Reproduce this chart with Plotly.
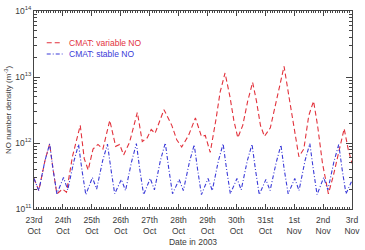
import pandas as pd
import plotly.graph_objects as go

# ---- data (hours since 2003-10-23 00:00, values in m^-3) ----
stable_hours = [0, 4, 9, 13, 15.8, 19,
                24.5, 28, 33, 37, 39.8, 43,
                48.5, 52, 57, 61, 63.8, 67,
                72.5, 76, 81, 85, 87.8, 91,
                96.5, 100, 105, 109, 111.8, 115,
                120.5, 124, 129, 133, 135.8, 139,
                144.5, 148, 153, 157, 159.8, 163,
                168.5, 172, 177, 181, 183.8, 187,
                192.5, 196, 201, 205, 207.8, 211,
                216.5, 220, 225, 229, 231.8, 235,
                240.5, 244, 249, 253, 255.8, 259,
                264]
stable_vals = [2.9e11, 1.9e11, 5.3e11, 9.7e11, 4.0e11, 1.7e11,
               3.0e11, 1.95e11, 5.2e11, 9.5e11, 3.9e11, 1.65e11,
               3.0e11, 2.0e11, 5.4e11, 9.6e11, 4.1e11, 1.7e11,
               2.8e11, 1.9e11, 5.2e11, 9.8e11, 4.0e11, 1.65e11,
               2.9e11, 1.95e11, 5.5e11, 1.0e12, 4.2e11, 1.7e11,
               2.8e11, 1.9e11, 5.1e11, 9.4e11, 4.0e11, 1.65e11,
               2.9e11, 1.9e11, 5.3e11, 9.7e11, 4.1e11, 1.7e11,
               2.9e11, 1.95e11, 5.3e11, 9.6e11, 4.0e11, 1.65e11,
               2.8e11, 1.9e11, 5.0e11, 9.3e11, 3.9e11, 1.7e11,
               2.9e11, 1.9e11, 5.4e11, 9.8e11, 4.1e11, 1.65e11,
               3.0e11, 1.95e11, 5.2e11, 9.5e11, 4.0e11, 1.7e11,
               2.7e11]

variable_hours = [0, 4, 9, 13, 15.8, 19, 23.7, 27, 31.9, 38.4, 41.7, 45,
                  49, 53.1, 57.2, 62.9, 67.8, 71.1, 74.4, 79.3, 85.8, 89.9,
                  94, 97.3, 100.5, 107.9, 114.4, 118.5, 122.6, 128.3, 134,
                  139, 142.2, 146.3, 151.2, 154.5, 158.6, 162.7, 165.9,
                  169.2, 173.3, 177.4, 181.5, 184.7, 188, 191.3, 196.2,
                  201.9, 207.6, 211.7, 215.8, 219.9, 224, 228.1, 232.1,
                  235.4, 239.5, 244.4, 248.5, 253.4, 257.5, 260.8, 264]
variable_vals = [2.9e11, 1.9e11, 5.3e11, 9.7e11, 4.0e11, 1.7e11, 2.0e11, 1.8e11,
                 6.2e11, 1.85e12, 5.8e11, 3.9e11,
                 8.1e11, 9.5e11, 8.1e11, 2.2e12, 8.9e11, 9.5e11, 6.6e11, 1.02e12,
                 2.9e12, 1.05e12,
                 1.2e12, 1.6e12, 1.4e12, 3.2e12, 1.85e12, 1.12e12, 8.7e11, 1.3e12,
                 2.4e12,
                 1.26e12, 1.3e12, 7.2e11, 2.35e12, 5.9e12, 1.15e13, 5.0e12, 2.2e12,
                 1.2e12, 1.85e12, 4.3e12, 8.3e12, 4.3e12, 1.85e12, 1.26e12, 1.7e12,
                 5.0e12, 1.45e13, 5.0e12, 1.85e12, 6.2e11, 8.1e11, 2.6e12, 4.3e12,
                 1.85e12, 4.9e11, 1.7e11, 3.2e11, 7.6e11, 1.65e12, 8.1e11, 4.9e11]

day_ticks = ["2003-10-23", "2003-10-24", "2003-10-25", "2003-10-26", "2003-10-27",
             "2003-10-28", "2003-10-29", "2003-10-30", "2003-10-31", "2003-11-01",
             "2003-11-02", "2003-11-03"]
day_labels = ["23rd<br>Oct", "24th<br>Oct", "25th<br>Oct", "26th<br>Oct", "27th<br>Oct",
              "28th<br>Oct", "29th<br>Oct", "30th<br>Oct", "31st<br>Oct", "1st<br>Nov",
              "2nd<br>Nov", "3rd<br>Nov"]
y_ticks = [1e11, 1e12, 1e13, 1e14]
y_labels = ["10<sup>11</sup>", "10<sup>12</sup>", "10<sup>13</sup>", "10<sup>14</sup>"]

start = pd.Timestamp("2003-10-23")
t_stable = start + pd.to_timedelta(stable_hours, unit="h")
t_var = start + pd.to_timedelta(variable_hours, unit="h")

RED = "#e2323c"
BLUE = "#3a3ad8"
FONT = "Liberation Sans, Arial, sans-serif"
TXT = "#3a3a3a"

fig = go.Figure()
fig.add_trace(go.Scatter(x=t_var, y=variable_vals, mode="lines",
                         line=dict(color=RED, width=1.1, dash="5px,3px"),
                         name="CMAT: variable NO"))
fig.add_trace(go.Scatter(x=t_stable, y=stable_vals, mode="lines",
                         line=dict(color=BLUE, width=1.1, dash="4px,2px,1px,2px"),
                         name="CMAT: stable NO"))

minor_y = [k * 10 ** e for e in (11, 12, 13) for k in range(2, 10)]

fig.update_layout(
    width=365, height=250,
    margin=dict(l=34, r=9, t=5, b=37),
    paper_bgcolor="white", plot_bgcolor="white",
    showlegend=False,
    font=dict(family=FONT, size=8, color=TXT),
    xaxis=dict(
        type="date",
        range=["2003-10-23", "2003-11-03"],
        tickmode="array", tickvals=day_ticks, ticktext=day_labels,
        ticks="inside", ticklen=5, tickcolor="#444444",
        showline=True, linecolor="#444444", linewidth=1, mirror="allticks",
        showgrid=False, zeroline=False,
        ticklabelstandoff=3,
        tickfont=dict(size=8.5, color=TXT),
        minor=dict(ticks="inside", ticklen=2, dtick=7200000, tickcolor="#444444", showgrid=False),
        title=dict(text="Date in 2003", font=dict(size=8.5, color=TXT), standoff=3),
    ),
    yaxis=dict(
        type="log",
        range=[11, 14],
        tickmode="array", tickvals=y_ticks, ticktext=y_labels,
        ticks="inside", ticklen=6, tickcolor="#444444",
        showline=True, linecolor="#444444", linewidth=1, mirror="allticks",
        showgrid=False, zeroline=False,
        tickfont=dict(size=8.5, color=TXT),
        minor=dict(ticks="inside", ticklen=3, tickvals=minor_y, tickcolor="#444444", showgrid=False),
        title=dict(text="NO number density (m<sup>-3</sup>)", font=dict(size=8, color=TXT), standoff=2),
    ),
)

# legend drawn inside the plot area
fig.add_shape(type="line", xref="paper", yref="paper", x0=0.04, x1=0.09, y0=0.84, y1=0.84,
              line=dict(color=RED, width=1.1, dash="5px,3px"))
fig.add_shape(type="line", xref="paper", yref="paper", x0=0.04, x1=0.09, y0=0.783, y1=0.783,
              line=dict(color=BLUE, width=1.1, dash="4px,2px,1px,2px"))
fig.add_annotation(xref="paper", yref="paper", x=0.105, y=0.84, xanchor="left", yanchor="middle",
                   text="CMAT: variable NO", showarrow=False, font=dict(size=8.5, color=RED))
fig.add_annotation(xref="paper", yref="paper", x=0.105, y=0.783, xanchor="left", yanchor="middle",
                   text="CMAT: stable NO", showarrow=False, font=dict(size=8.5, color=BLUE))

fig.write_html("out.html")
